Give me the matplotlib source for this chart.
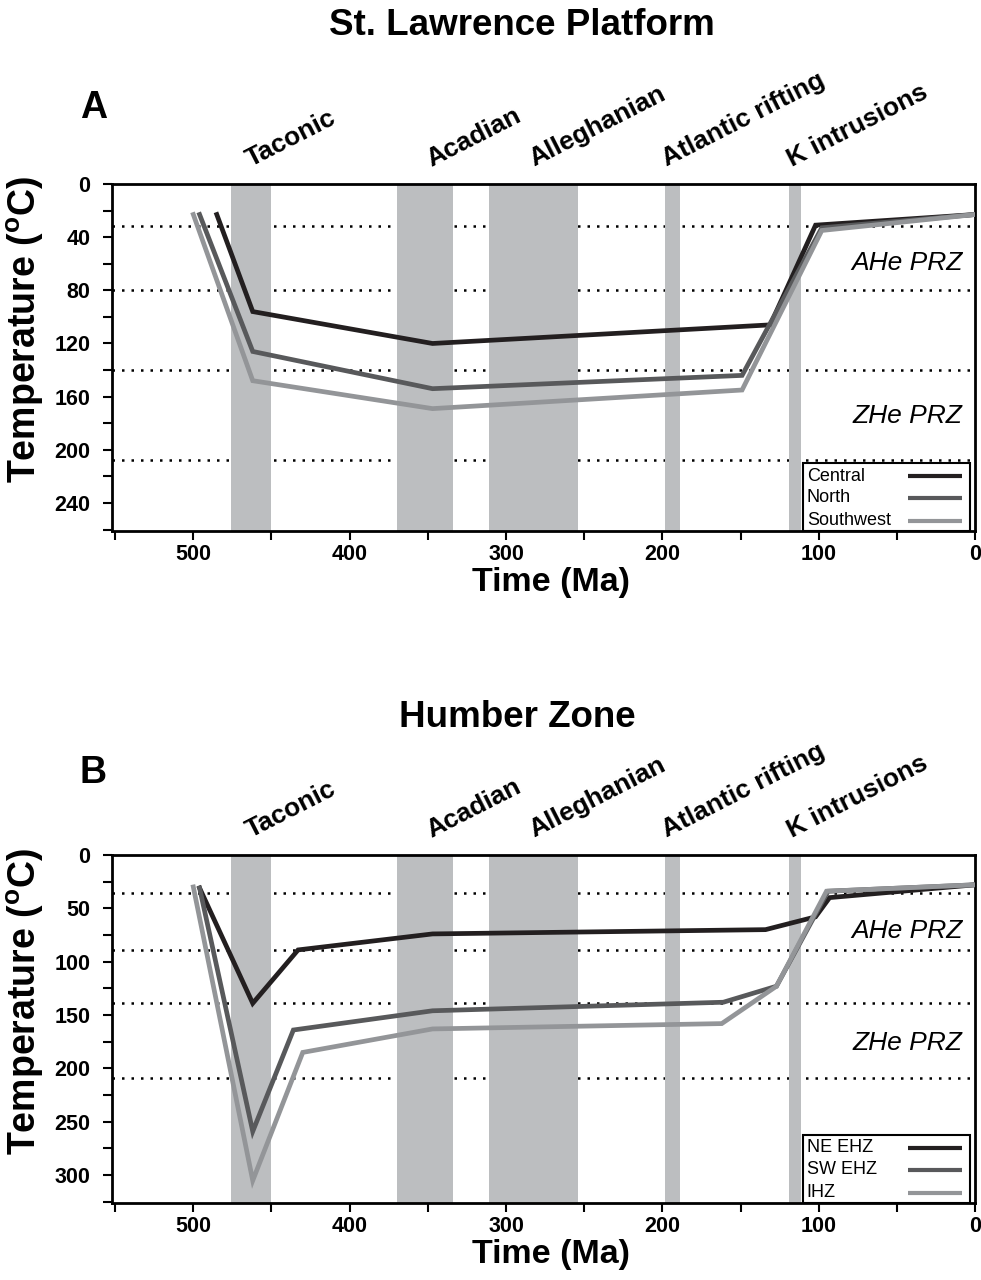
import matplotlib
matplotlib.use('Agg')
import matplotlib.pyplot as plt
import matplotlib.transforms as mtransforms

plt.rcParams['font.family'] = ['Liberation Sans', 'DejaVu Sans']

# tectonic events (Ma)
events = ["Taconic", "Acadian", "Alleghanian", "Atlantic rifting", "K intrusions"]
event_start = [476, 370, 311, 198, 119]
event_end = [450, 334, 254, 189, 111]
event_label_x = [463, 348, 282, 197, 117]

# panel A - St. Lawrence Platform
a_names = ["Central", "North", "Southwest"]
a_central_t = [485, 462, 347, 131, 102, 0]
a_central_T = [23, 96, 120, 106, 31, 23]
a_north_t = [496, 462, 347, 149, 98, 0]
a_north_T = [23, 126, 154, 144, 33, 23]
a_sw_t = [500, 462, 347, 149, 98, 0]
a_sw_T = [23, 148, 169, 155, 35, 23]
a_prz = [32, 80, 140, 208]

# panel B - Humber Zone
b_names = ["NE EHZ", "SW EHZ", "IHZ"]
b_ne_t = [496, 462, 433, 347, 134, 102, 93, 0]
b_ne_T = [31, 139, 89, 74, 70, 58, 40, 28]
b_sw_t = [496, 462, 436, 347, 161, 127, 94, 0]
b_sw_T = [31, 259, 164, 146, 138, 123, 34, 28]
b_ihz_t = [500, 462, 430, 347, 162, 127, 95, 0]
b_ihz_T = [30, 305, 185, 163, 158, 123, 34, 28]
b_prz = [36, 89, 139, 209]

colors = ['#231f20', '#58595b', '#939598']
bar_color = '#bcbec0'


def draw_panel(ax, series, names, prz, ylim, ymajor, yminor, ahe_y, zhe_y):
    for y in prz:
        ax.axhline(y, color='k', lw=1.8, ls=(0, (1, 2.8)), zorder=1)
    for s, e in zip(event_start, event_end):
        ax.axvspan(e, s, color=bar_color, lw=0, zorder=2)
    for (t, T), c in zip(series, colors):
        ax.plot(t, T, color=c, lw=3.4, zorder=3, solid_joinstyle='miter')
    ax.set_xlim(552, 0)
    ax.set_ylim(ylim, 0)
    ax.set_xticks([500, 400, 300, 200, 100, 0])
    ax.set_xticks([550, 450, 350, 250, 150, 50], minor=True)
    ax.set_yticks(ymajor)
    ax.set_yticks(yminor, minor=True)
    ax.tick_params(which='both', direction='out', length=6.5, width=1.5,
                   labelsize=15.5, top=False, right=False)
    ax.tick_params(axis='x', pad=3)
    ax.tick_params(axis='y', pad=9)
    for lab in ax.get_xticklabels() + ax.get_yticklabels():
        lab.set_fontweight('bold')
    for sp in ax.spines.values():
        sp.set_linewidth(2)
    ax.set_xlabel('Time (Ma)', fontsize=24.5, fontweight='bold')
    ax.set_ylabel(r'Temperature ($\mathregular{^o}$C)', fontsize=27, fontweight='bold')
    ax.xaxis.set_label_coords(0.509, -0.105)
    ax.yaxis.set_label_coords(-0.076, 0.58)

    ax.text(8, ahe_y, 'AHe PRZ', ha='right', va='baseline', fontsize=19,
            style='italic', zorder=4)
    ax.text(8, zhe_y, 'ZHe PRZ', ha='right', va='baseline', fontsize=19,
            style='italic', zorder=4)

    # event labels above the axes
    trans = mtransforms.blended_transform_factory(ax.transData, ax.transAxes)
    for name, x in zip(events, event_label_x):
        ax.text(x, 1.05, name, transform=trans, rotation=27, rotation_mode='anchor',
                ha='left', va='baseline', fontsize=19, fontweight='bold',
                clip_on=False)

    # legend drawn by hand: text on left, line sample on right
    box = plt.Rectangle((0.801, 0.0), 0.193, 0.196, transform=ax.transAxes,
                        fill=True, facecolor='white', edgecolor='k', lw=1.5,
                        zorder=5)
    ax.add_patch(box)
    rows = [0.158, 0.095, 0.03]
    for name, c, yy in zip(names, colors, rows):
        ax.text(0.805, yy, name, transform=ax.transAxes, ha='left', va='center',
                fontsize=13, zorder=6)
        ax.plot([0.922, 0.985], [yy, yy], transform=ax.transAxes, color=c,
                lw=3, zorder=6, solid_capstyle='butt')


fig = plt.figure(figsize=(9.81, 12.8), dpi=100)
ax1 = fig.add_axes([0.1142, 0.5852, 0.8797, 0.2711])
ax2 = fig.add_axes([0.1142, 0.0602, 0.8797, 0.2719])

draw_panel(ax1, [(a_central_t, a_central_T), (a_north_t, a_north_T), (a_sw_t, a_sw_T)],
           a_names, a_prz, 261, range(0, 241, 40), range(20, 261, 40), 65, 180)
draw_panel(ax2, [(b_ne_t, b_ne_T), (b_sw_t, b_sw_T), (b_ihz_t, b_ihz_T)],
           b_names, b_prz, 326, range(0, 301, 50), range(25, 326, 50), 78, 183)

fig.text(0.532, 0.9727, 'St. Lawrence Platform', ha='center', va='baseline',
         fontsize=26.5, fontweight='bold')
fig.text(0.0815, 0.9078, 'A', ha='left', va='baseline', fontsize=27, fontweight='bold')
fig.text(0.527, 0.432, 'Humber Zone', ha='center', va='baseline',
         fontsize=26.5, fontweight='bold')
fig.text(0.0815, 0.388, 'B', ha='left', va='baseline', fontsize=27, fontweight='bold')

fig.savefig('out.png', dpi=100)
